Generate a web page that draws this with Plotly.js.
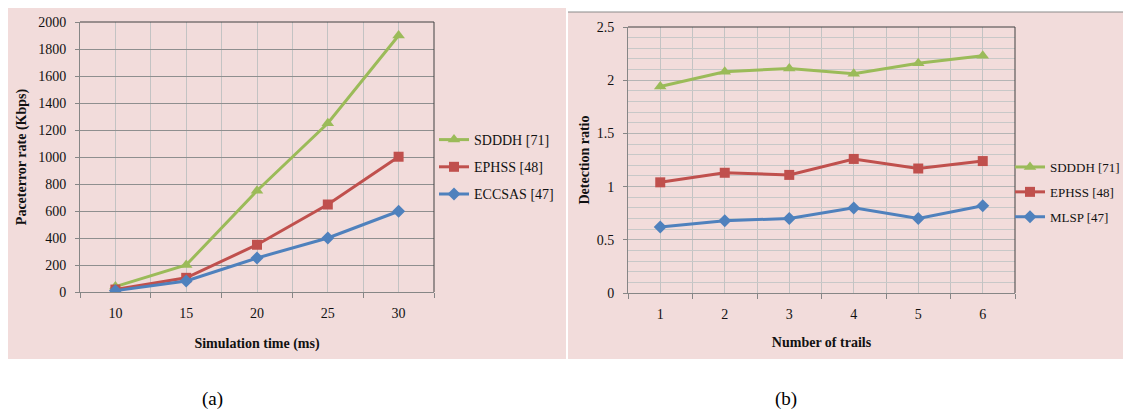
<!DOCTYPE html>
<html>
<head>
<meta charset="utf-8">
<script src="https://cdn.plot.ly/plotly-3.0.1.min.js"></script>
<style>html,body{margin:0;padding:0;background:#fff;}#chart{width:1123px;height:414px;}</style>
</head>
<body>
<div id="chart"></div>
<script>
// ---- Data: panel (a) ----
const simTime = [10, 15, 20, 25, 30];
const sdddhA = [40, 200, 750, 1250, 1900];
const ephssA = [18, 105, 350, 648, 1002];
const eccsasA = [10, 82, 252, 400, 598];
const namesA = ['SDDDH [71]', 'EPHSS [48]', 'ECCSAS [47]'];

// ---- Data: panel (b) ----
const trails = [1, 2, 3, 4, 5, 6];
const sdddhB = [1.94, 2.08, 2.11, 2.06, 2.16, 2.23];
const ephssB = [1.04, 1.13, 1.11, 1.26, 1.17, 1.24];
const mlspB = [0.62, 0.68, 0.70, 0.80, 0.70, 0.82];
const namesB = ['SDDDH [71]', 'EPHSS [48]', 'MLSP [47]'];

const captions = ['(a)', '(b)'];

const GREEN = '#9bbb59', RED = '#c0504d', BLUE = '#4f81bd';
const PINK = '#f2dcdb';
const SERIF = '"Liberation Serif", "Times New Roman", serif';

function tr(x, y, name, color, symbol, size, xa, ya, legend, group) {
  return {
    x: x, y: y, name: name, type: 'scatter', mode: 'lines+markers',
    line: {color: color, width: 3},
    marker: {color: color, symbol: symbol, size: size},
    xaxis: xa, yaxis: ya, legend: legend, legendgroup: group
  };
}

const data = [
  tr(simTime, sdddhA, namesA[0], GREEN, 'triangle-up', 11, 'x', 'y', 'legend', 'a1'),
  tr(simTime, ephssA, namesA[1], RED, 'square', 10, 'x', 'y', 'legend', 'a2'),
  tr(simTime, eccsasA, namesA[2], BLUE, 'diamond', 10, 'x', 'y', 'legend', 'a3'),
  tr(trails, sdddhB, namesB[0], GREEN, 'triangle-up', 11, 'x2', 'y2', 'legend2', 'b1'),
  tr(trails, ephssB, namesB[1], RED, 'square', 10, 'x2', 'y2', 'legend2', 'b2'),
  tr(trails, mlspB, namesB[2], BLUE, 'diamond', 10, 'x2', 'y2', 'legend2', 'b3')
];

const tickFont = {family: SERIF, size: 14, color: '#111'};
const titleFont = {family: SERIF, size: 14, color: '#111', weight: 'bold'};

function border(xr, yr) {
  return [
    {type: 'line', xref: xr + ' domain', yref: yr + ' domain', x0: 0, x1: 1, y0: 1, y1: 1,
     line: {color: '#404040', width: 1}, layer: 'above'},
    {type: 'line', xref: xr + ' domain', yref: yr + ' domain', x0: 1, x1: 1, y0: 0, y1: 1,
     line: {color: '#404040', width: 1}, layer: 'above'}
  ];
}

const layout = {
  width: 1123, height: 414,
  margin: {l: 0, r: 0, t: 0, b: 0, autoexpand: false},
  paper_bgcolor: '#ffffff',
  plot_bgcolor: 'rgba(0,0,0,0)',
  showlegend: true,
  xaxis: {
    domain: [80 / 1123, 434 / 1123], range: [7.5, 32.5],
    tickvals: simTime, ticks: '', showgrid: true, gridcolor: '#c3c3c3', gridwidth: 1,
    showline: true, linecolor: '#868686', zeroline: false,
    minor: {tick0: 7.5, dtick: 5, ticks: 'outside', ticklen: 5, tickcolor: '#868686',
            showgrid: true, gridcolor: '#c3c3c3'},
    tickfont: tickFont, ticklabelstandoff: 8,
    title: {text: 'Simulation time (ms)', font: titleFont, standoff: 18}
  },
  yaxis: {
    domain: [(414 - 292) / 414, (414 - 22) / 414], range: [0, 2000], dtick: 200,
    ticks: 'outside', ticklen: 4, tickcolor: '#868686',
    showgrid: true, gridcolor: '#8f8f8f', showline: true, linecolor: '#868686', zeroline: false,
    tickfont: tickFont, ticklabelstandoff: 6,
    title: {text: 'Paceterror rate (Kbps)', font: titleFont, standoff: 8}
  },
  xaxis2: {
    domain: [628 / 1123, 1015 / 1123], range: [0.5, 6.5], anchor: 'y2',
    tickvals: trails, ticks: '', showgrid: true, gridcolor: '#c3c3c3',
    showline: true, linecolor: '#868686', zeroline: false,
    minor: {tick0: 0.5, dtick: 1, ticks: 'outside', ticklen: 5, tickcolor: '#868686',
            showgrid: true, gridcolor: '#c3c3c3'},
    tickfont: tickFont, ticklabelstandoff: 8,
    title: {text: 'Number of trails', font: titleFont, standoff: 16}
  },
  yaxis2: {
    domain: [(414 - 293) / 414, (414 - 27) / 414], range: [0, 2.5], dtick: 0.5, anchor: 'x2',
    ticks: 'outside', ticklen: 4, tickcolor: '#868686',
    showgrid: true, gridcolor: '#b5b5b5', showline: true, linecolor: '#868686', zeroline: false,
    minor: {dtick: 0.1, showgrid: true, gridcolor: '#c8c8c8', ticks: ''},
    tickfont: tickFont, ticklabelstandoff: 6,
    title: {text: 'Detection ratio', font: titleFont, standoff: 3}
  },
  legend: {
    x: 434 / 1123, xanchor: 'left', y: (414 - 124) / 414, yanchor: 'top',
    bgcolor: 'rgba(0,0,0,0)', borderwidth: 0, tracegroupgap: 6,
    traceorder: 'grouped', font: {family: SERIF, size: 14, color: '#111'}
  },
  legend2: {
    x: 1010 / 1123, xanchor: 'left', y: (414 - 152) / 414, yanchor: 'top',
    bgcolor: 'rgba(0,0,0,0)', borderwidth: 0, tracegroupgap: 5,
    traceorder: 'grouped', font: {family: SERIF, size: 13, color: '#111'}
  },
  shapes: [
    {type: 'rect', xref: 'paper', yref: 'paper', x0: 8 / 1123, x1: 566 / 1123,
     y0: (414 - 359) / 414, y1: (414 - 8) / 414, fillcolor: PINK, line: {width: 0}, layer: 'below'},
    {type: 'rect', xref: 'paper', yref: 'paper', x0: 568 / 1123, x1: 1,
     y0: (414 - 359) / 414, y1: (414 - 12) / 414, fillcolor: PINK, line: {width: 0}, layer: 'below'},
    {type: 'line', xref: 'paper', yref: 'paper', x0: 568 / 1123, x1: 1,
     y0: (414 - 12) / 414, y1: (414 - 12) / 414, line: {color: '#8a8a8a', width: 1}, layer: 'below'}
  ].concat(border('x', 'y'), border('x2', 'y2')),
  annotations: [
    {text: captions[0], xref: 'paper', yref: 'paper', x: 212 / 1123, y: (414 - 399) / 414,
     showarrow: false, xanchor: 'center', yanchor: 'middle', font: {family: SERIF, size: 19, color: '#000'}},
    {text: captions[1], xref: 'paper', yref: 'paper', x: 786 / 1123, y: (414 - 399) / 414,
     showarrow: false, xanchor: 'center', yanchor: 'middle', font: {family: SERIF, size: 19, color: '#000'}}
  ]
};

Plotly.newPlot('chart', data, layout, {displayModeBar: false, staticPlot: true});
</script>
</body>
</html>
